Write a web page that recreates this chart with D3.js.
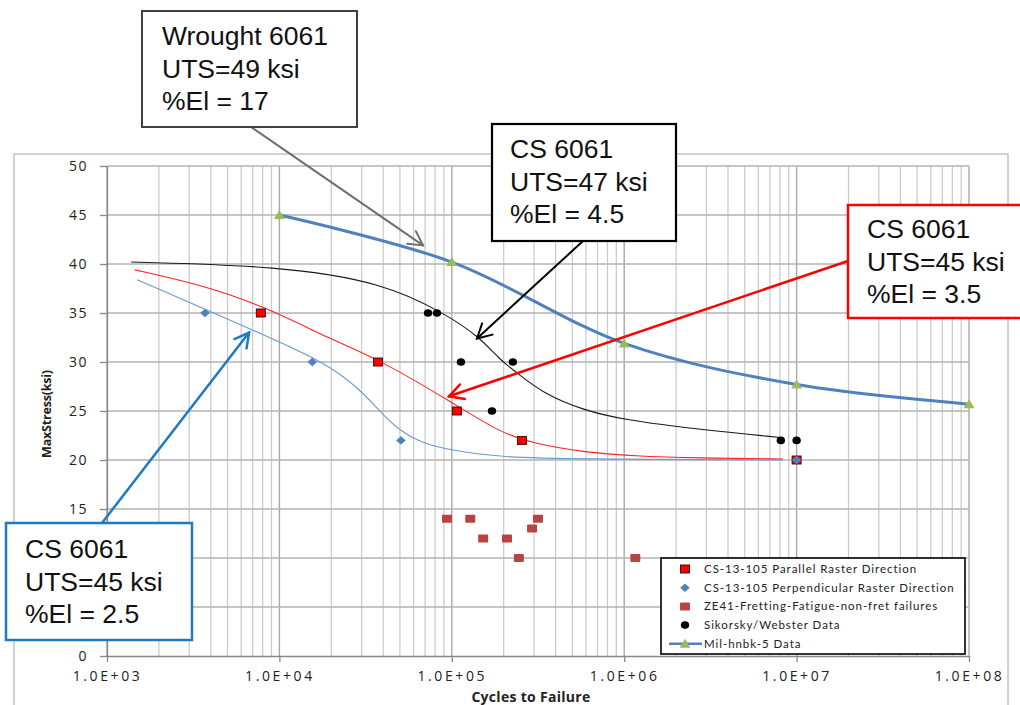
<!DOCTYPE html>
<html><head><meta charset="utf-8">
<script src="https://cdn.jsdelivr.net/npm/d3@7"></script>
<style>body{margin:0;background:#fff}svg{display:block}</style>
</head><body><svg id="c" width="1020" height="705"></svg>
<script>
// ---------- data ----------
const xDecades = [1e3, 1e4, 1e5, 1e6, 1e7, 1e8];
const xTickLabels = ["1.0E+03","1.0E+04","1.0E+05","1.0E+06","1.0E+07","1.0E+08"];
const yTicks = [0,5,10,15,20,25,30,35,40,45,50];

const parallelCycles = [7800, 37300, 107000, 255000, 1e7];
const parallelStress = [35, 30, 25, 22, 20];

const perpCycles = [3700, 15500, 50700, 1e7];
const perpStress = [35, 30, 22, 20];

const ze41Cycles = [93800, 128000, 152000, 209000, 245000, 292000, 316000, 1160000];
const ze41Stress = [14, 14, 12, 12, 10, 13, 14, 10];

const sikorskyCycles = [72800, 82000, 113000, 226000, 171000, 8100000, 1e7];
const sikorskyStress = [35, 35, 30, 30, 25, 22, 22];

const milCycles = [1e4, 1e5, 1e6, 1e7, 1e8];
const milStress = [45, 40.2, 31.9, 27.7, 25.7];

// fitted trend curves
const blackFitCycles = [1380, 1380, 10000, 39900, 90200, 143900, 190500, 238800, 338100, 576800, 984000, 2754000, 8020000, 8020000];
const blackFitStress = [40.2, 40.2, 39.8, 38.1, 35.0, 32.6, 30.2, 28.9, 26.8, 25.1, 24.1, 23.1, 22.3, 22.3];

const redFitCycles = [1450, 1450, 3460, 7900, 20500, 38400, 97700, 190500, 295800, 576800, 1125000, 2754000, 8340000, 8340000];
const redFitStress = [39.4, 39.4, 37.9, 35.8, 32.2, 30.2, 26.0, 22.8, 21.7, 20.8, 20.4, 20.2, 20.1, 20.1];

const blueFitCycles = [1493, 1493, 6745, 18880, 29380, 39900, 50100, 65400, 97700, 190500, 465600, 8340000, 8340000];
const blueFitStress = [38.4, 38.4, 33.4, 29.9, 27.2, 24.6, 23.0, 21.8, 21.0, 20.3, 20.1, 20.0, 20.0];

const legendLabels = ["CS-13-105 Parallel Raster Direction","CS-13-105 Perpendicular Raster Direction","ZE41-Fretting-Fatigue-non-fret failures","Sikorsky/Webster Data","Mil-hnbk-5 Data"];

const noteLines = [
  ["Wrought 6061","UTS=49 ksi","%El = 17"],
  ["CS 6061","UTS=47 ksi","%El = 4.5"],
  ["CS 6061","UTS=45 ksi","%El = 3.5"],
  ["CS 6061","UTS=45 ksi","%El = 2.5"]
];
// arrow targets in data units
const noteTargetCycles = [68100, 140000, 96400, 6670];
const noteTargetStress = [41.9, 32.4, 26.5, 33.0];

// ---------- drawing ----------
const svg = d3.select("#c");
svg.append("rect").attr("width",1020).attr("height",705).attr("fill","#fff");

const x = d3.scaleLog().domain([1e3,1e8]).range([107,969]);
const y = d3.scaleLinear().domain([0,50]).range([656,166]);

// chart outer border
svg.append("rect").attr("x",14).attr("y",154).attr("width",994).attr("height",570)
  .attr("fill","none").attr("stroke","#c4c4c4").attr("stroke-width",1.5);

// gridlines
const grid = svg.append("g");
const minor = [];
for (let d = 3; d < 8; d++) for (let k = 2; k <= 9; k++) minor.push(k * Math.pow(10, d));
grid.selectAll(".vmin").data(minor).join("line")
  .attr("x1",d=>x(d)).attr("x2",d=>x(d)).attr("y1",y(0)).attr("y2",y(50))
  .attr("stroke","#c9c9c9").attr("stroke-width",1.2);
grid.selectAll(".vmaj").data(xDecades).join("line")
  .attr("x1",d=>x(d)).attr("x2",d=>x(d)).attr("y1",y(0)).attr("y2",y(50))
  .attr("stroke","#a9a9a9").attr("stroke-width",1.4);
grid.selectAll(".h").data(yTicks.filter(v=>v>0)).join("line")
  .attr("x1",x(1e3)).attr("x2",x(1e8)).attr("y1",d=>y(d)).attr("y2",d=>y(d))
  .attr("stroke","#b3b3b3").attr("stroke-width",1.4);

// axes
const yAxis = svg.append("g").attr("transform",`translate(${x(1e3)},0)`)
  .call(d3.axisLeft(y).tickValues(yTicks).tickSize(7).tickSizeOuter(0).tickPadding(12));
yAxis.select(".domain").attr("stroke","#888").attr("stroke-width",1.3);
yAxis.selectAll(".tick line").attr("stroke","#888").attr("stroke-width",1.3);
yAxis.selectAll("text").attr("font-family","Open Sans").attr("font-size",14)
  .attr("letter-spacing","1.5px").attr("fill","#222");

const xAxis = svg.append("g").attr("transform",`translate(0,${y(0)})`)
  .call(d3.axisBottom(x).tickValues(xDecades).tickFormat((d,i)=>xTickLabels[i]).tickSize(6).tickSizeOuter(0).tickPadding(9));
xAxis.select(".domain").attr("stroke","#888").attr("stroke-width",1.3);
xAxis.selectAll(".tick line").attr("stroke","#888").attr("stroke-width",1.3);
xAxis.selectAll("text").attr("font-family","Open Sans").attr("font-size",14)
  .attr("letter-spacing","2.6px").attr("fill","#222");

svg.append("text").attr("x",531).attr("y",702).attr("text-anchor","middle")
  .attr("font-family","Open Sans").attr("font-weight","bold").attr("font-size",14)
  .attr("letter-spacing","0.3px").attr("fill","#222").text("Cycles to Failure");
svg.append("text").attr("transform","translate(51,414) rotate(-90)").attr("text-anchor","middle")
  .attr("font-family","Open Sans").attr("font-weight","bold").attr("font-size",12.5)
  .attr("letter-spacing","-0.2px").attr("fill","#222").text("MaxStress(ksi)");

// trend curves
function curve(xs, ys, color, w, c) {
  const pts = xs.map((v,i)=>[x(v), y(ys[i])]);
  svg.append("path").attr("d", d3.line().curve(c)(pts))
    .attr("fill","none").attr("stroke",color).attr("stroke-width",w);
}
curve(blackFitCycles, blackFitStress, "#1a1a1a", 1.1, d3.curveBasis);
curve(redFitCycles, redFitStress, "#ff2020", 1.1, d3.curveBasis);
curve(blueFitCycles, blueFitStress, "#6a9ad6", 1.1, d3.curveBasis);
curve(milCycles, milStress, "#4f81bd", 3, d3.curveCatmullRom.alpha(0.5));

// markers
const sq = (g, cx, cy, fill, stroke, w, h) => g.append("rect").attr("x",cx-w/2).attr("y",cy-h/2)
  .attr("width",w).attr("height",h).attr("fill",fill).attr("stroke",stroke).attr("stroke-width",stroke==="none"?0:0.9);
const diamond = (g, cx, cy) => g.append("path")
  .attr("d",`M${cx-4.8},${cy}L${cx},${cy-4.2}L${cx+4.8},${cy}L${cx},${cy+4.2}Z`).attr("fill","#4f81bd");
const dot = (g, cx, cy) => g.append("ellipse").attr("cx",cx).attr("cy",cy).attr("rx",4.2).attr("ry",3.8).attr("fill","#000");
const tri = (g, cx, cy) => g.append("path")
  .attr("d",`M${cx},${cy-5}L${cx+5.5},${cy+4}L${cx-5.5},${cy+4}Z`).attr("fill","#9bbb59");

const mk = svg.append("g");
ze41Cycles.forEach((c,i)=>sq(mk, x(c), y(ze41Stress[i]), "#b94242", "none", 10, 8).attr("rx",1));
sikorskyCycles.forEach((c,i)=>dot(mk, x(c), y(sikorskyStress[i])));
parallelCycles.forEach((c,i)=>sq(mk, x(c), y(parallelStress[i]), "#ff0000", "#3a0000", 9, 8));
perpCycles.forEach((c,i)=>diamond(mk, x(c), y(perpStress[i])));
milCycles.forEach((c,i)=>tri(mk, x(c), y(milStress[i])));

// legend
const lg = svg.append("g");
lg.append("rect").attr("x",661).attr("y",558).attr("width",304).attr("height",96)
  .attr("fill","#fff").attr("stroke","#000").attr("stroke-width",1.6);
const rowY = i => 569 + i*18.7;
sq(lg, 685, rowY(0), "#ff0000", "#3a0000", 9, 8);
diamond(lg, 685, rowY(1));
sq(lg, 685, rowY(2), "#b94242", "none", 10, 8).attr("rx",1);
dot(lg, 685, rowY(3));
lg.append("line").attr("x1",669).attr("x2",702).attr("y1",rowY(4)).attr("y2",rowY(4))
  .attr("stroke","#4f81bd").attr("stroke-width",2.5);
tri(lg, 685, rowY(4));
legendLabels.forEach((t,i)=>lg.append("text").attr("x",704).attr("y",rowY(i)).attr("dy","0.35em")
  .attr("font-family","Lato").attr("font-size",11.5).attr("letter-spacing","0.95px").attr("fill","#222").text(t));

// annotations
function arrow(x1,y1,x2,y2,color,w) {
  const g = svg.append("g").attr("stroke",color).attr("stroke-width",w).attr("fill","none").attr("stroke-linecap","round");
  g.append("line").attr("x1",x1).attr("y1",y1).attr("x2",x2).attr("y2",y2);
  const a = Math.atan2(y1-y2, x1-x2), L = 16, s = 0.5;
  g.append("path").attr("d",`M${x2+L*Math.cos(a+s)},${y2+L*Math.sin(a+s)}L${x2},${y2}L${x2+L*Math.cos(a-s)},${y2+L*Math.sin(a-s)}`);
}
const boxes = [
  {x:142,y:11,w:215,h:116,stroke:"#404040",sw:2,tx:162,ty:45,ax:251,ay:127,ac:"#6f6f6f",aw:2},
  {x:492,y:124,w:184,h:117,stroke:"#000",sw:2.2,tx:510,ty:158,ax:583,ay:241,ac:"#000",aw:2},
  {x:848,y:205,w:180,h:113,stroke:"#ff0000",sw:2.5,tx:867,ty:238,ax:848,ay:261,ac:"#ff0000",aw:2.5},
  {x:6,y:523,w:186,h:117,stroke:"#1f7ac4",sw:2.5,tx:25,ty:558,ax:102,ay:523,ac:"#1f7ac4",aw:2.5}
];
boxes.forEach((b,i)=>{
  arrow(b.ax, b.ay, x(noteTargetCycles[i]), y(noteTargetStress[i]), b.ac, b.aw);
});
boxes.forEach((b,i)=>{
  svg.append("rect").attr("x",b.x).attr("y",b.y).attr("width",b.w).attr("height",b.h)
    .attr("fill","#fff").attr("stroke",b.stroke).attr("stroke-width",b.sw);
  noteLines[i].forEach((t,j)=>svg.append("text").attr("x",b.tx).attr("y",b.ty+j*32.5)
    .attr("font-family","Liberation Sans").attr("font-size",26.5).attr("fill","#111").text(t));
});
</script></body></html>
